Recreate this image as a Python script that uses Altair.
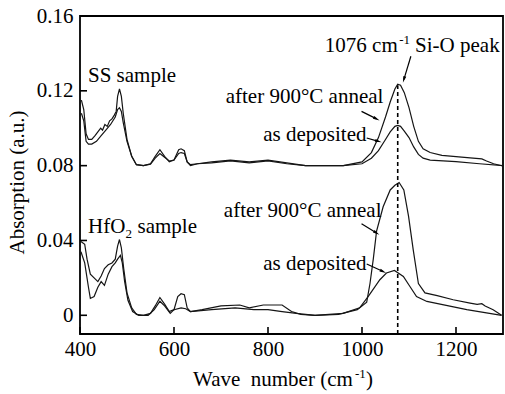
import altair as alt
import pandas as pd
import numpy as np

# ---------------- data ----------------
ss_ann_w = [403, 408, 413, 418, 425, 432, 438, 444, 448, 453, 458, 463, 468, 473, 477, 480, 484, 488, 492, 500, 510, 520, 535, 550, 560,
            570, 580, 590, 600, 610, 615, 622, 628, 635, 650, 680, 720, 760, 800, 840, 880, 920, 960, 1000, 1020, 1035,
            1050, 1060, 1070, 1076, 1082, 1090, 1100, 1110, 1120, 1130, 1145, 1170, 1200, 1230, 1255, 1265, 1280, 1300]
ss_ann_v = [0.115, 0.110, 0.097, 0.094, 0.094, 0.096, 0.098, 0.100, 0.099, 0.102, 0.101, 0.104, 0.105, 0.107, 0.109, 0.117, 0.121, 0.117,
            0.108, 0.094, 0.085, 0.0805, 0.080, 0.081, 0.085, 0.0885, 0.085, 0.082, 0.083, 0.0885, 0.089, 0.088,
            0.082, 0.080, 0.081, 0.082, 0.083, 0.082, 0.083, 0.0815, 0.080, 0.080, 0.080, 0.082, 0.087, 0.095,
            0.106, 0.114, 0.121, 0.1235, 0.123, 0.119, 0.111, 0.101, 0.093, 0.089, 0.087, 0.0855, 0.0848,
            0.0842, 0.0836, 0.0825, 0.081, 0.0798]

ss_dep_w = [403, 408, 413, 418, 425, 435, 445, 455, 465, 475, 480, 484, 488, 492, 500, 510, 520, 535, 550, 560,
            570, 580, 590, 600, 610, 615, 622, 628, 635, 650, 680, 720, 760, 800, 840, 880, 920, 960, 1000, 1020,
            1035, 1050, 1060, 1070, 1076, 1082, 1090, 1100, 1110, 1120, 1130, 1145, 1200, 1250, 1300]
ss_dep_v = [0.108, 0.104, 0.093, 0.0915, 0.0915, 0.093, 0.096, 0.099, 0.102, 0.106, 0.110, 0.111, 0.109, 0.103,
            0.093, 0.085, 0.0805, 0.080, 0.0808, 0.084, 0.0865, 0.0845, 0.0825, 0.083, 0.0865, 0.087, 0.0865,
            0.082, 0.0805, 0.081, 0.0815, 0.0825, 0.0815, 0.0825, 0.081, 0.080, 0.080, 0.080, 0.081, 0.084,
            0.088, 0.094, 0.098, 0.101, 0.1015, 0.101, 0.0985, 0.095, 0.090, 0.086, 0.084, 0.083, 0.0822,
            0.081, 0.080]

hf_ann_w = [402, 410, 415, 422, 430, 438, 445, 452, 460, 468, 475, 480, 484, 488, 493, 500, 510, 520, 535, 550, 560,
            570, 580, 590, 600, 608, 615, 622, 628, 635, 660, 700, 740, 760, 790, 830, 850, 870, 900, 950, 990,
            1010, 1017, 1024, 1031, 1045, 1060, 1070, 1079, 1089, 1099, 1109, 1120, 1134, 1160, 1194, 1230,
            1245, 1255, 1262, 1279, 1297]
hf_ann_v = [0.0395, 0.038, 0.030, 0.022, 0.020, 0.018, 0.021, 0.025, 0.027, 0.028, 0.030, 0.037, 0.0405, 0.036,
            0.025, 0.012, 0.004, 0.0005, 0.0, 0.001, 0.005, 0.0095, 0.006, 0.002, 0.003, 0.010, 0.0115, 0.011,
            0.004, 0.002, 0.003, 0.005, 0.0055, 0.004, 0.0055, 0.0055, 0.002, 0.0005, 0.0, 0.0005, 0.003,
            0.007, 0.017, 0.030, 0.045, 0.058, 0.067, 0.0695, 0.071, 0.067, 0.053, 0.035, 0.017, 0.012,
            0.0105, 0.0083, 0.0065, 0.0058, 0.0062, 0.005, 0.003, 0.0]

hf_dep_w = [402, 410, 418, 422, 430, 438, 445, 452, 460, 468, 475, 480, 486, 490, 495, 502, 512, 525, 545, 558,
            570, 580, 592, 600, 615, 625, 635, 680, 730, 770, 800, 830, 860, 900, 960, 995, 1013, 1038, 1052,
            1069, 1088, 1102, 1116, 1138, 1223, 1297]
hf_dep_v = [0.034, 0.028, 0.015, 0.009, 0.010, 0.015, 0.018, 0.016, 0.022, 0.026, 0.028, 0.030, 0.032, 0.028,
            0.018, 0.008, 0.002, 0.0, 0.0, 0.003, 0.0075, 0.005, 0.001, 0.003, 0.004, 0.0035, 0.002, 0.003,
            0.004, 0.003, 0.003, 0.002, 0.001, 0.0, 0.001, 0.004, 0.010, 0.019, 0.0226, 0.024, 0.0208, 0.0154,
            0.010, 0.0074, 0.003, 0.0]

peak_w = 1076
peak_top = 0.123

x_ticks = [400, 600, 800, 1000, 1200]
y_ticks = [0, 0.04, 0.08, 0.12, 0.16]

# annotation text pieces (baseline anchored, sub/superscripts as separate small pieces)
label_text = ["SS sample", "HfO", "2", "sample", "after 900°C anneal", "as deposited",
              "after 900°C anneal", "as deposited", "1076 cm", "-1", "Si-O peak",
              "Wave\u00a0 number (cm", "-1", ")"]
label_w = [417, 417, 496.8, 522.3, 710, 790, 706, 790, 921, 1079, 1113, 640.4, 985, 1008.5]
label_v = [0.1248, 0.0438, 0.0411, 0.0438, 0.1137, 0.093, 0.0525, 0.024, 0.1408, 0.1448, 0.1408,
           -0.0377, -0.0337, -0.0377]
label_size = [21, 21, 13, 21, 21, 21, 21, 21, 21, 13, 21, 21, 13, 21]

arrow_w1 = [1104, 999, 1010, 999, 1010]
arrow_v1 = [0.1385, 0.109, 0.0948, 0.049, 0.0274]
arrow_w2 = [1089, 1031, 1035, 1031, 1045]
arrow_v2 = [0.126, 0.105, 0.093, 0.044, 0.0234]

# ---------------- build tables ----------------
frames = []
for name, w, v in [("ss_ann", ss_ann_w, ss_ann_v), ("ss_dep", ss_dep_w, ss_dep_v),
                   ("hf_ann", hf_ann_w, hf_ann_v), ("hf_dep", hf_dep_w, hf_dep_v)]:
    frames.append(pd.DataFrame({"w": w, "v": v, "series": name}))
df = pd.concat(frames, ignore_index=True)

XMIN, XMAX, YMIN, YMAX = 400, 1300, -0.01, 0.16
W, H = 423, 318
sx = W / (XMAX - XMIN)
sy = H / (YMAX - YMIN)
TICK = 7  # px, inward tick length

arr = pd.DataFrame({"w": arrow_w1, "v": arrow_v1, "w2": arrow_w2, "v2": arrow_v2})
dxp = (arr["w2"] - arr["w"]) * sx
dyp = -(arr["v2"] - arr["v"]) * sy
arr["ang"] = np.mod(np.degrees(np.arctan2(dxp, -dyp)), 360)

lab = pd.DataFrame({"w": label_w, "v": label_v, "t": label_text, "s": label_size})
pk = pd.DataFrame({"w": [peak_w], "v": [YMIN], "v2": [peak_top]})

# inward tick marks as rules drawn through the scales
xt = pd.DataFrame({"w": x_ticks, "v": YMIN, "v2": YMIN + TICK / sy})
yt = pd.DataFrame({"v": y_ticks, "w": XMIN, "w2": XMIN + TICK / sx})

FONT = "Liberation Serif"
xs = alt.Scale(domain=[XMIN, XMAX], nice=False, zero=False)
ys = alt.Scale(domain=[YMIN, YMAX], nice=False, zero=False)

xaxis = alt.Axis(values=x_ticks, title="", grid=False, format="d",
                 domain=False, ticks=False,
                 labelFont=FONT, labelFontSize=21, labelColor="black", labelPadding=4,
                 labelFlush=False)
yaxis = alt.Axis(values=y_ticks, title="Absorption (a.u.)", grid=False,
                 domain=False, ticks=False,
                 labelExpr="datum.value == 0 ? '0' : format(datum.value, '.2f')",
                 labelFont=FONT, labelFontSize=21, labelColor="black", labelPadding=7,
                 titleFont=FONT, titleFontSize=21, titleFontWeight="normal", titleColor="black",
                 titleAngle=270, titleX=-63, titleY=166, titleBaseline="middle", labelFlush=False)

lines = alt.Chart(df).mark_line(color="#151515", strokeWidth=1.2, clip=True).encode(
    x=alt.X("w:Q", scale=xs, axis=xaxis),
    y=alt.Y("v:Q", scale=ys, axis=yaxis),
    detail="series:N",
)

xtick = alt.Chart(xt).mark_rule(color="black", strokeWidth=1.6).encode(
    x=alt.X("w:Q", scale=xs), y=alt.Y("v:Q", scale=ys), y2="v2:Q")
ytick = alt.Chart(yt).mark_rule(color="black", strokeWidth=1.6).encode(
    x=alt.X("w:Q", scale=xs), x2="w2:Q", y=alt.Y("v:Q", scale=ys))

dash = alt.Chart(pk).mark_rule(color="black", strokeWidth=1.6, strokeDash=[4, 3]).encode(
    x=alt.X("w:Q", scale=xs), y=alt.Y("v:Q", scale=ys), y2="v2:Q")

arrows = alt.Chart(arr).mark_rule(color="black", strokeWidth=1.2).encode(
    x=alt.X("w:Q", scale=xs), y=alt.Y("v:Q", scale=ys), x2="w2:Q", y2="v2:Q")

heads = alt.Chart(arr).mark_point(shape="M0,-1L0.45,1L-0.45,1Z", filled=True, color="black",
                                  size=45, opacity=1).encode(
    x=alt.X("w2:Q", scale=xs), y=alt.Y("v2:Q", scale=ys),
    angle=alt.Angle("ang:Q", scale=None))

texts = alt.Chart(lab).mark_text(align="left", baseline="alphabetic", font=FONT,
                                 color="black").encode(
    x=alt.X("w:Q", scale=xs), y=alt.Y("v:Q", scale=ys), text="t:N",
    size=alt.Size("s:Q", scale=None, legend=None))

chart = alt.layer(lines, xtick, ytick, dash, arrows, heads, texts).properties(
    width=W, height=H,
    autosize=alt.AutoSizeParams(type="none"),
    padding={"left": 80, "top": 16, "right": 2, "bottom": 60},
    background="white",
).configure(font=FONT).configure_view(stroke="black", strokeWidth=1.8)

chart.save("out.html", embed_options={"renderer": "svg", "actions": False})
